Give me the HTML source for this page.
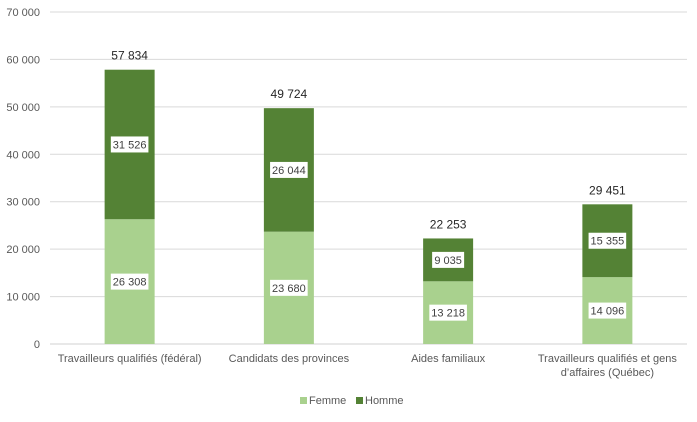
<!DOCTYPE html>
<html><head><meta charset="utf-8"><style>
body{margin:0;background:#fff;}
svg text{font-family:"Liberation Sans",sans-serif;}
</style></head><body>
<svg id="c" width="697" height="417" xmlns="http://www.w3.org/2000/svg"></svg>
<script>
const categories=[["Travailleurs qualifiés (fédéral)"],["Candidats des provinces"],["Aides familiaux"],["Travailleurs qualifiés et gens","d’affaires (Québec)"]];
const femme=[26308,23680,13218,14096];
const homme=[31526,26044,9035,15355];
const ticks=[0,10000,20000,30000,40000,50000,60000,70000];
const NS="http://www.w3.org/2000/svg";
const svg=document.getElementById('c');
const x0=50,x1=687,y0=344,y1=12,maxV=70000;
const y=v=>y0-(v/maxV)*(y0-y1);
const band=(x1-x0)/categories.length;
const cx=i=>x0+band*(i+0.5);
const bw=50;
const fmt=v=>String(v).replace(/\B(?=(\d{3})+(?!\d))/g,' ');
function el(t,a,txt){const e=document.createElementNS(NS,t);for(const k in a)e.setAttribute(k,a[k]);if(txt!==undefined)e.textContent=txt;svg.appendChild(e);return e;}
ticks.forEach(t=>{
 const g=el('line',{x1:x0,x2:x1,y1:y(t),y2:y(t),stroke:t===0?'#d0d0d0':'#d9d9d9','stroke-width':1});
 
 
 const l=el('text',{x:40,y:y(t)+4,'text-anchor':'end','font-size':11,fill:'#595959'},fmt(t));
 
 
});
function label(xc,yc,v){
 const w=fmt(v).length*5.6+4;
 const r=el('rect',{x:xc-w/2,y:yc-8,width:w,height:16,fill:'#fff'});
 
 
 const t=el('text',{x:xc,y:yc+4,'text-anchor':'middle','font-size':11,fill:'#404040'},fmt(v));
 
 
}
categories.forEach((c,i)=>{
 const xc=cx(i);
 const f=el('rect',{x:xc-bw/2,y:y(femme[i]),width:bw,height:y0-y(femme[i]),fill:'#a9d18e'});
 
 
 const tot=femme[i]+homme[i];
 const h=el('rect',{x:xc-bw/2,y:y(tot),width:bw,height:y(femme[i])-y(tot),fill:'#548235'});
 
 
 label(xc,(y0+y(femme[i]))/2,femme[i]);
 label(xc,(y(femme[i])+y(tot))/2,homme[i]);
 const tt=el('text',{x:xc,y:y(tot)-10,'text-anchor':'middle','font-size':12,fill:'#262626'},fmt(tot));
 
 
 c.forEach((line,j)=>{
  const cl=el('text',{x:xc,y:362+j*14,'text-anchor':'middle','font-size':11,fill:'#595959'},line);
  
  
 });
});
const lg=[["Femme","#a9d18e",300],["Homme","#548235",356]];
lg.forEach(([n,col,lx])=>{
 const s=el('rect',{x:lx,y:397,width:7,height:7,fill:col});
 
 
 const t=el('text',{x:lx+9,y:404,'font-size':11,fill:'#595959'},n);
 
 
});
</script>
</body></html>
